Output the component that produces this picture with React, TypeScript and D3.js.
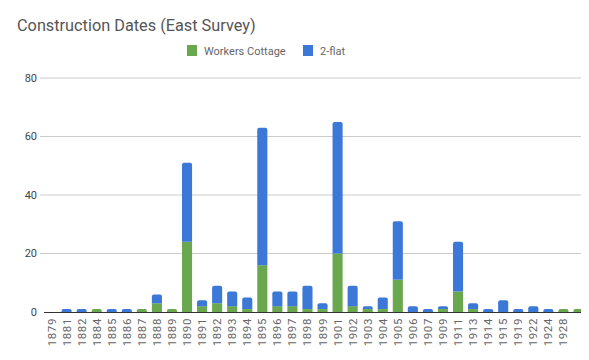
import * as d3 from "d3";

const years = [
  "1879", "1881", "1882", "1884", "1885", "1886", "1887", "1888", "1889", "1890",
  "1891", "1892", "1893", "1894", "1895", "1896", "1897", "1898", "1899", "1901",
  "1902", "1903", "1904", "1905", "1906", "1907", "1909", "1911", "1913", "1914",
  "1915", "1919", "1922", "1924", "1928", "",
];
const workersCottage = [
  0, 0, 0, 1, 0, 0, 1, 3, 1, 24,
  2, 3, 2, 1, 16, 2, 2, 1, 1, 20,
  2, 1, 1, 11, 0, 0, 1, 7, 1, 0,
  0, 0, 0, 0, 1, 1,
];
const twoFlat = [
  0, 1, 1, 0, 1, 1, 0, 3, 0, 27,
  2, 6, 5, 4, 47, 5, 5, 8, 2, 45,
  7, 1, 4, 20, 2, 1, 1, 17, 2, 1,
  4, 1, 2, 1, 0, 0,
];
const yTicks = [0, 20, 40, 60, 80];

const seriesNames = ["Workers Cottage", "2-flat"];
const colors = ["#6aa84f", "#3c78d8"];

const width = 589;
const height = 360;
const font = "Roboto, Arial, sans-serif";

// bar path with slightly rounded top corners
function barPath(x: number, y: number, w: number, h: number, r: number) {
  if (h <= 0) return "";
  const rr = Math.min(r, h, w / 2);
  return `M${x},${y + h}V${y + rr}Q${x},${y} ${x + rr},${y}H${x + w - rr}Q${x + w},${y} ${x + w},${y + rr}V${y + h}Z`;
}

export default function App() {
  const x = d3.scaleBand<string>().domain(years.map((_, i) => String(i))).range([44, 586]).paddingInner(0.33).paddingOuter(0.165);
  const y = d3.scaleLinear().domain([0, 80]).range([312, 78]);

  const rows = years.map((yr, i) => ({ key: String(i), yr, wc: workersCottage[i], tf: twoFlat[i] }));
  const stack = d3.stack<(typeof rows)[number]>().keys(["wc", "tf"]).value((d, k) => (d as any)[k])(rows);

  return (
    <div style={{ margin: -8 }}>
      <svg width={width} height={height} style={{ display: "block", background: "#fff" }}>
        <text x={17} y={31} fontFamily={font} fontSize={16.3} fill="#555">
          Construction Dates (East Survey)
        </text>

        {/* legend */}
        <g fontFamily={font} fontSize={11} fill="#666">
          <rect x={187} y={45} width={10} height={11} fill={colors[0]} />
          <text x={204} y={55}>{seriesNames[0]}</text>
          <rect x={303} y={45} width={10} height={11} fill={colors[1]} />
          <text x={320} y={55}>{seriesNames[1]}</text>
        </g>

        {yTicks.map((t) => (
          <g key={t}>
            {t > 0 && <line x1={40} x2={586} y1={y(t)} y2={y(t)} stroke="#ccc" strokeWidth={1} />}
            <text x={37} y={y(t)} dy="0.35em" textAnchor="end" fontFamily={font} fontSize={11} fill="#444">
              {t}
            </text>
          </g>
        ))}

        {stack.map((layer, li) =>
          layer.map((seg, i) => {
            const x0 = x(rows[i].key) ?? 0;
            const top = y(seg[1]);
            const h = y(seg[0]) - top;
            if (h <= 0) return null;
            const isTop = li === 1 || rows[i].tf === 0;
            return isTop ? (
              <path key={`${li}-${i}`} d={barPath(x0, top, x.bandwidth(), h, 2)} fill={colors[li]} />
            ) : (
              <rect key={`${li}-${i}`} x={x0} y={top} width={x.bandwidth()} height={h} fill={colors[li]} />
            );
          })
        )}

        <line x1={44} x2={586} y1={312.5} y2={312.5} stroke="#333" strokeWidth={1} />

        {rows.map((r) => {
          const cx = (x(r.key) ?? 0) + x.bandwidth() / 2;
          return (
            <text
              key={r.key}
              transform={`translate(${cx + 4},318) rotate(-90)`}
              textAnchor="end"
              fontFamily={font}
              fontSize={11.5}
              letterSpacing={0.6}
              fill="#666"
            >
              {r.yr}
            </text>
          );
        })}
      </svg>
    </div>
  );
}
